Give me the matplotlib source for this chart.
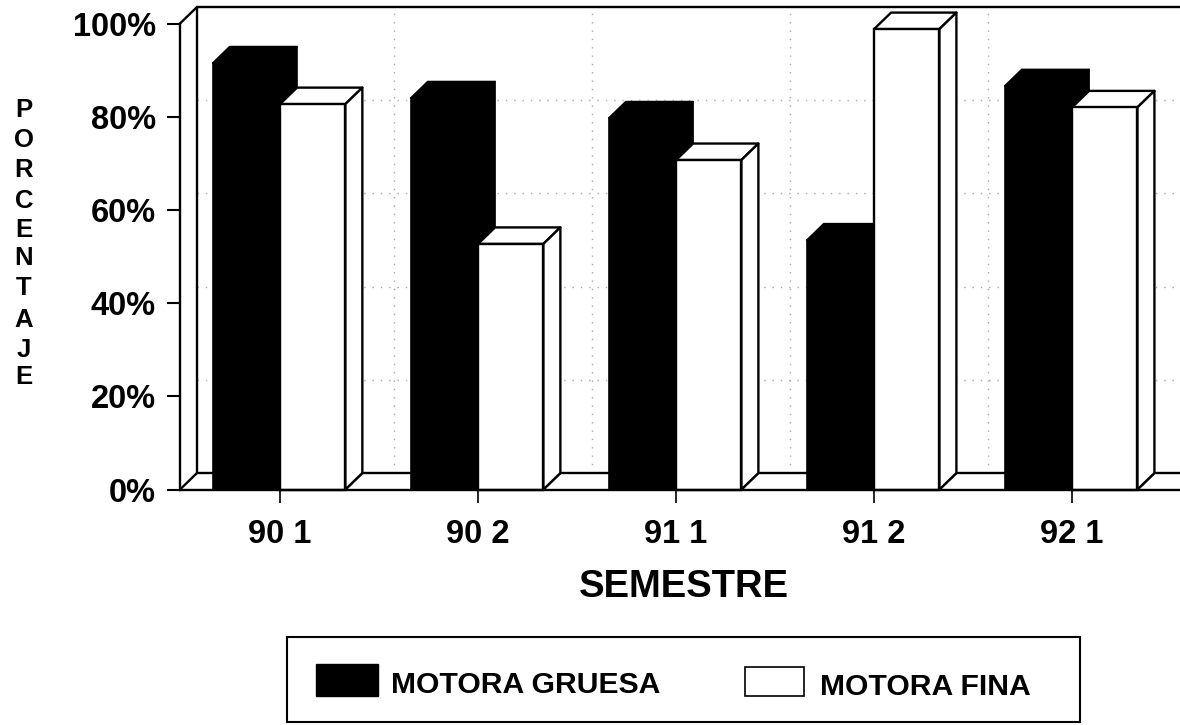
import matplotlib
matplotlib.use("Agg")
import matplotlib.pyplot as plt
from matplotlib.patches import Polygon, Rectangle

plt.rcParams["font.family"] = ["Liberation Sans", "DejaVu Sans"]
plt.rcParams["font.weight"] = "bold"

categories = ["90 1", "90 2", "91 1", "91 2", "92 1"]
motora_gruesa = [91.5, 84, 79.7, 53.5, 86.6]
motora_fina = [82.7, 52.7, 70.7, 98.8, 82]
y_ticks = [0, 20, 40, 60, 80, 100]
y_tick_labels = ["0%", "20%", "40%", "60%", "80%", "100%"]
axis_letters = list("PORCENTAJE")
letter_rows = [110, 140, 170, 201, 230, 258, 288, 320, 350, 377]

W, H = 1180, 725
fig = plt.figure(figsize=(W / 100, H / 100), dpi=100, facecolor="white")


def fx(px):
    return px / W


def fy(py):
    return 1 - py / H


ax = fig.add_axes([fx(180), fy(489.5), fx(1180 - 180), 466 / H])
ax.set_xlim(-0.505, 4.545)
ax.set_ylim(0, 100)
ax.set_facecolor("none")

# Oblique offset of the 3D box, in data units
DX = 17 / 198
DY = 16.5 / 4.66
BLACK_W = 0.34
WHITE_W = 0.33
LW = 1.7
XMIN, XMAX = ax.get_xlim()

# Dotted grid on the back wall
grid = dict(ls=(0, (1, 5)), color="#a8a8a8", lw=1, zorder=1, clip_on=False)
for v in y_ticks[1:-1]:
    ax.plot([XMIN + DX, XMAX], [v + DY, v + DY], **grid)
for i in range(len(categories)):
    x = i + 0.49 + DX
    ax.plot([x, x], [DY, 100 + DY], **grid)

# Walls and floor outline
wall = dict(color="black", lw=LW, clip_on=False, zorder=2, solid_capstyle="round")
ax.plot([XMIN + DX, XMIN + DX], [DY, 100 + DY], **wall)
ax.plot([XMIN, XMIN + DX], [100, 100 + DY], **wall)
ax.plot([XMIN + DX, XMAX], [100 + DY, 100 + DY], **wall)
ax.plot([XMIN + DX, XMAX], [DY, DY], **wall)
ax.plot([XMIN, XMIN + DX], [0, DY], **wall)
for i in range(len(categories)):
    ax.plot([i + WHITE_W, i + WHITE_W + DX], [0, DY], **wall)


def draw_bar(left, width, value, face, line, zorder):
    right = left + width
    edge = "black"
    # Side and top faces go first so the front face sits over their shared edges
    ax.add_patch(Polygon([(left, value), (left + DX, value + DY), (right + DX, value + DY), (right, value)],
                         closed=True, facecolor=face, edgecolor=edge, lw=line, zorder=zorder,
                         joinstyle="round", clip_on=False))
    ax.add_patch(Polygon([(right, 0), (right + DX, DY), (right + DX, value + DY), (right, value)],
                         closed=True, facecolor=face, edgecolor=edge, lw=line, zorder=zorder,
                         joinstyle="round", clip_on=False))
    ax.bar(left, value, width, align="edge", color=face, edgecolor=edge, lw=line, zorder=zorder + 0.1,
           clip_on=False)


for i, (g, f) in enumerate(zip(motora_gruesa, motora_fina)):
    draw_bar(i - BLACK_W, BLACK_W, g, "black", 1.2, 3 + i)
    draw_bar(i, WHITE_W, f, "white", LW, 3.5 + i)

for name in ("top", "right"):
    ax.spines[name].set_visible(False)
for name in ("left", "bottom"):
    ax.spines[name].set_linewidth(LW)
    ax.spines[name].set_zorder(20)

ax.set_xticks(range(len(categories)), categories)
ax.set_yticks(y_ticks, y_tick_labels)
ax.tick_params(axis="x", length=9, width=1.2, pad=12.5, labelsize=23.5)
ax.tick_params(axis="y", length=9.4, width=1.5, pad=8, labelsize=23.5)

fig.text(fx(684), fy(587), "SEMESTRE", ha="center", va="center", fontsize=27.5, fontweight="bold")

for letter, row in zip(axis_letters, letter_rows):
    fig.text(fx(24), fy(row), letter, ha="center", va="center", fontsize=18.5, fontweight="bold")

# Legend frame and entries
fig.add_artist(Rectangle((fx(287), fy(722)), fx(1080 - 287), (722 - 637) / H, transform=fig.transFigure,
                         facecolor="white", edgecolor="black", lw=1.5))
fig.add_artist(Rectangle((fx(316), fy(696)), fx(62), 32 / H, transform=fig.transFigure,
                         facecolor="black", edgecolor="black", lw=1))
fig.add_artist(Rectangle((fx(745), fy(696)), fx(59), 29 / H, transform=fig.transFigure,
                         facecolor="white", edgecolor="black", lw=1.2))
fig.text(fx(391), fy(685), "MOTORA GRUESA", ha="left", va="center", fontsize=21.7, fontweight="bold")
fig.text(fx(820), fy(687), "MOTORA FINA", ha="left", va="center", fontsize=21.7, fontweight="bold")

fig.savefig("out.png", dpi=100, facecolor="white")
